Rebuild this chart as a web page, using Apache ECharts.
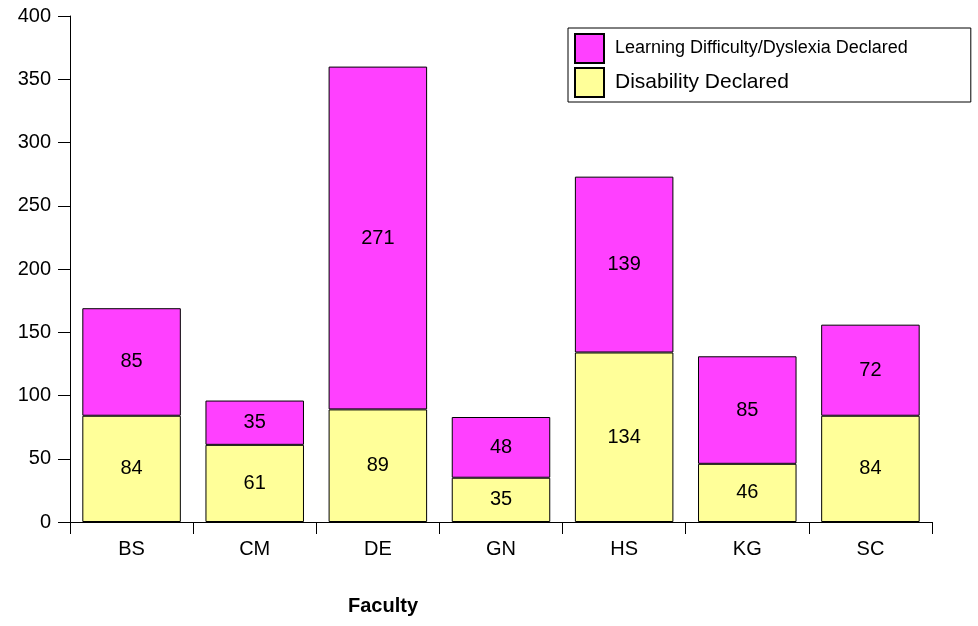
<!DOCTYPE html>
<html>
<head>
<meta charset="utf-8">
<script src="https://cdn.jsdelivr.net/npm/echarts@6/dist/echarts.min.js"></script>
<style>html,body{margin:0;padding:0;background:#fff}#c{width:978px;height:626px}</style>
</head>
<body>
<div id="c"></div>
<script>
const categories = ['BS', 'CM', 'DE', 'GN', 'HS', 'KG', 'SC'];
const disability = [84, 61, 89, 35, 134, 46, 84];
const learning = [85, 35, 271, 48, 139, 85, 72];
const seriesNames = ['Disability Declared', 'Learning Difficulty/Dyslexia Declared'];
const yTicks = { min: 0, max: 400, interval: 50 };
const axisTitle = 'Faculty';

const FONT = 'Arial, "Liberation Sans", sans-serif';
const chart = echarts.init(document.getElementById('c'), null, { renderer: 'canvas' });
const label = { show: true, position: 'inside', color: '#000', fontSize: 20, fontFamily: FONT };
chart.setOption({
  animation: false,
  textStyle: { fontFamily: FONT },
  title: {
    text: axisTitle, left: 343, top: 591,
    textStyle: { fontSize: 20, fontWeight: 'bold', color: '#000', fontFamily: FONT }
  },
  grid: { left: 70, right: 46, top: 16, bottom: 104 },
  legend: {
    orient: 'vertical', left: 568, top: 28,
    padding: [5, 63, 4, 6],
    itemWidth: 29, itemHeight: 29, itemGap: 3,
    borderColor: '#000', borderWidth: 1,
    icon: 'rect',
    data: [
      { name: seriesNames[1], textStyle: { fontSize: 18, color: '#000', fontFamily: FONT, padding: [0, 0, 0, 6] } },
      { name: seriesNames[0], textStyle: { fontSize: 21, color: '#000', fontFamily: FONT, padding: [0, 0, 0, 6] } }
    ]
  },
  xAxis: {
    type: 'category', data: categories,
    axisLine: { show: true, lineStyle: { color: '#000', width: 1 } },
    axisTick: { show: true, length: 12, alignWithLabel: false, lineStyle: { color: '#000', width: 1 } },
    axisLabel: { color: '#000', fontSize: 20, margin: 17, fontFamily: FONT }
  },
  yAxis: {
    type: 'value', min: yTicks.min, max: yTicks.max, interval: yTicks.interval,
    axisLine: { show: true, lineStyle: { color: '#000', width: 1 } },
    axisTick: { show: true, length: 12, lineStyle: { color: '#000' } },
    axisLabel: { color: '#000', fontSize: 20, margin: 19, fontFamily: FONT },
    splitLine: { show: false }
  },
  series: [
    {
      name: seriesNames[0], type: 'bar', stack: 'a', data: disability, barWidth: '80%',
      itemStyle: { color: '#FFFF99', borderColor: '#000', borderWidth: 1 },
      label: label
    },
    {
      name: seriesNames[1], type: 'bar', stack: 'a', data: learning, barWidth: '80%',
      itemStyle: { color: '#FF40FF', borderColor: '#000', borderWidth: 1 },
      label: label
    }
  ]
});
</script>
</body>
</html>
